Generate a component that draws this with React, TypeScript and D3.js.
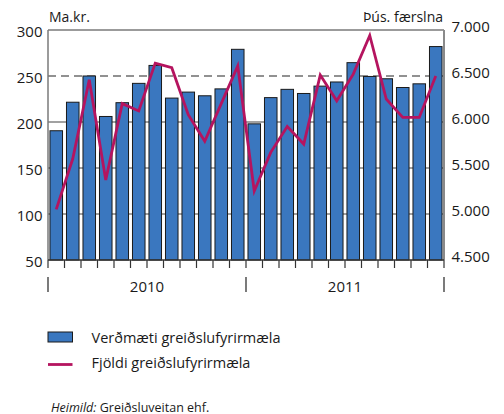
import React from "react";
import * as d3 from "d3";

const months = [
  "2010-01","2010-02","2010-03","2010-04","2010-05","2010-06","2010-07","2010-08","2010-09","2010-10","2010-11","2010-12",
  "2011-01","2011-02","2011-03","2011-04","2011-05","2011-06","2011-07","2011-08","2011-09","2011-10","2011-11","2011-12",
];
const valueSeries = [190.5, 221.5, 250, 206, 221, 242, 261.5, 226, 232.5, 228.5, 236, 279, 198, 226.5, 235.5, 231, 239, 243.5, 264.5, 249.5, 247, 237.5, 241.5, 282];
const countSeries = [5050, 5600, 6460, 5370, 6200, 6120, 6640, 6590, 6080, 5790, 6200, 6610, 5250, 5670, 5950, 5760, 6510, 6230, 6520, 6940, 6250, 6050, 6050, 6500];
const leftTicks = [50, 100, 150, 200, 250, 300];
const rightTicks = [4500, 5000, 5500, 6000, 6500, 7000];
const years = ["2010", "2011"];
const leftUnit = "Ma.kr.";
const rightUnit = "Þús. færslna";
const seriesNames = ["Verðmæti greiðslufyrirmæla", "Fjöldi greiðslufyrirmæla"];

const W = 504, H = 414;
const L = 48, R = 444, T = 30, B = 260;
const FONT = "'Open Sans', 'DejaVu Sans', sans-serif";
const BAR = "#3a77bf";
const LINE = "#b5145f";

export default function App() {
  const x = d3.scaleBand<string>().domain(months).range([L, R]).paddingInner(0.24).paddingOuter(0.12);
  const xb = d3.scaleLinear().domain([0, months.length]).range([L, R]);
  const yL = d3.scaleLinear().domain([50, 300]).range([B, T]);
  const yR = d3.scaleLinear().domain([4500, 7000]).range([B, T]);
  const fmtR = (v: number) => d3.format(",")(v).replace(",", ".");
  const line = d3.line<number>()
    .x((_, i) => xb(i + 0.5))
    .y((d) => yR(d));

  return (
    <svg width={W} height={H} style={{ position: "absolute", left: 0, top: 0, background: "#fff" }} fontFamily={FONT}>
      {leftTicks.filter((t) => t !== 50 && t !== 300).map((t) => (
        <line key={t} x1={L} x2={R} y1={yL(t)} y2={yL(t)}
          stroke={t === 250 ? "#6e6e6e" : "#444"} strokeWidth={t === 250 ? 1.6 : 1.2}
          strokeDasharray={t === 250 ? "8,5" : undefined} />
      ))}
      {valueSeries.map((v, i) => (
        <rect key={i} x={x(months[i])} y={yL(v)} width={x.bandwidth()} height={B - yL(v)}
          fill={BAR} stroke="#1a1a1a" strokeWidth={1} />
      ))}
      <line x1={L} x2={R} y1={T} y2={T} stroke="#7a7a7a" strokeWidth={1.5} />
      <line x1={L} x2={L} y1={T} y2={B} stroke="#7a7a7a" strokeWidth={1.5} />
      <line x1={R} x2={R} y1={T} y2={B} stroke="#8a8a8a" strokeWidth={2} />
      <line x1={L} x2={R} y1={B} y2={B} stroke="#333" strokeWidth={1.5} />
      {d3.range(months.length + 1).map((k) => (
        <line key={k} x1={xb(k)} x2={xb(k)} y1={B} y2={B + 8} stroke="#333" strokeWidth={1.2} />
      ))}
      {[0, 12, 24].map((k) => (
        <line key={k} x1={xb(k)} x2={xb(k)} y1={277} y2={292} stroke="#333" strokeWidth={1.3} />
      ))}
      {years.map((yr, j) => (
        <text key={yr} x={(xb(j * 12) + xb(j * 12 + 12)) / 2} y={291.5} textAnchor="middle" fontSize={15} fill="#1a1a1a">{yr}</text>
      ))}
      <path d={line(countSeries) || ""} fill="none" stroke={LINE} strokeWidth={2.8} strokeLinejoin="miter" />
      {leftTicks.map((t) => (
        <text key={t} x={42.5} y={yL(t) + 7.2} textAnchor="end" fontSize={15} fill="#1a1a1a">{t}</text>
      ))}
      {rightTicks.map((t) => (
        <text key={t} x={451.5} y={yR(t) + 1.7} textAnchor="start" fontSize={15} fill="#1a1a1a">{fmtR(t)}</text>
      ))}
      <text x={49} y={21.5} fontSize={14} fill="#1a1a1a">{leftUnit}</text>
      <text x={443} y={21.5} textAnchor="end" fontSize={14} fill="#1a1a1a">{rightUnit}</text>
      <rect x={48} y={332} width={24.5} height={10} fill={BAR} stroke="#1a1a1a" strokeWidth={1} />
      <text x={91.5} y={342.5} fontSize={14.5} fill="#1a1a1a">{seriesNames[0]}</text>
      <line x1={48} x2={72.5} y1={364.5} y2={364.5} stroke={LINE} strokeWidth={2.8} />
      <text x={91.5} y={368.3} fontSize={14.5} fill="#1a1a1a">{seriesNames[1]}</text>
      <text x={51} y={411.5} fontSize={12.5} fill="#1a1a1a">
        <tspan fontStyle="italic">Heimild:</tspan> Greiðsluveitan ehf.
      </text>
    </svg>
  );
}
